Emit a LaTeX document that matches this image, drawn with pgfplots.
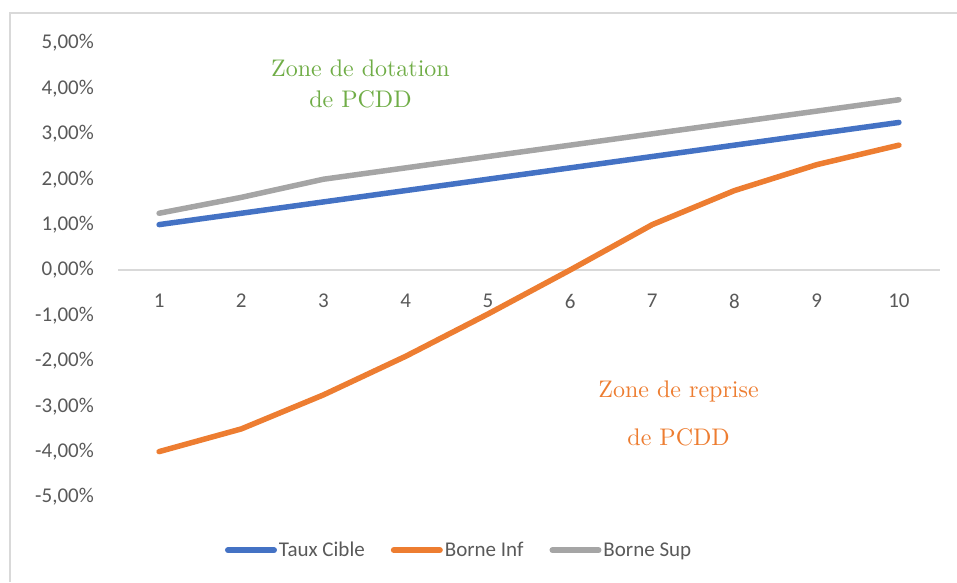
\documentclass[border=0pt]{standalone}
\usepackage{pgfplots}
\pgfplotsset{compat=1.18}
\usepackage{fontspec}
\newfontfamily\carlito{Carlito}
\newfontfamily\lmten{lmroman10-regular.otf}
\definecolor{cblue}{HTML}{4472C4}
\definecolor{corange}{HTML}{ED7D31}
\definecolor{cgray}{HTML}{A5A5A5}
\definecolor{cgreen}{HTML}{70AD47}
\definecolor{ctext}{HTML}{595959}
\definecolor{cframe}{HTML}{D9D9D9}
\begin{document}
\begin{tikzpicture}[x=1pt,y=1pt]
\useasboundingbox (0,0) rectangle (957,-582);
\draw[cframe, line width=1.5pt] (10,-582) -- (10,-13) -- (957,-13);
\begin{axis}[
  at={(118pt,-497pt)}, anchor=south west,
  scale only axis, width=822pt, height=454pt,
  xmin=0.5, xmax=10.5, ymin=-5, ymax=5,
  axis x line=middle, axis y line=left,
  x axis line style={draw=cframe, line width=2pt, -},
  y axis line style={draw=none},
  xtick={1,...,10}, ytick={-5,-4,...,5},
  yticklabels={-5{,}00\%,-4{,}00\%,-3{,}00\%,-2{,}00\%,-1{,}00\%,0{,}00\%,1{,}00\%,2{,}00\%,3{,}00\%,4{,}00\%,5{,}00\%},
  major tick length=0pt, tick style={draw=none},
  xticklabel style={font=\carlito\fontsize{21}{24}\selectfont, text=ctext, anchor=north, inner sep=0pt, yshift=-24pt},
  yticklabel style={font=\carlito\fontsize{21}{24}\selectfont, text=ctext, anchor=east, inner sep=0pt, xshift=-24pt},
  /pgf/number format/assume math mode=true,
  clip=false,
  legend style={at={(0.415,-0.117)}, anchor=center, draw=none, fill=none,
    font=\carlito\fontsize{21}{24}\selectfont, text=ctext,
    legend columns=3, /tikz/every even column/.append style={column sep=24pt},
    legend cell align=left, inner sep=0pt},
  legend image code/.code={\draw[#1, line width=6pt, line cap=round] (0pt,0pt) -- (46pt,0pt);},
  every axis plot/.append style={line width=5.5pt, line join=round, line cap=round, mark=none},
]
\addplot[cblue] coordinates {(1,1.00) (2,1.25) (3,1.50) (4,1.75) (5,2.00) (6,2.25) (7,2.50) (8,2.75) (9,3.00) (10,3.25)};
\addlegendentry{Taux Cible}
\addplot[corange] coordinates {(1,-4.00) (2,-3.50) (3,-2.75) (4,-1.90) (5,-0.97) (6,0.00) (7,1.00) (8,1.75) (9,2.32) (10,2.75)};
\addlegendentry{Borne Inf}
\addplot[cgray] coordinates {(1,1.25) (2,1.60) (3,2.00) (4,2.25) (5,2.50) (6,2.75) (7,3.00) (8,3.25) (9,3.50) (10,3.75)};
\addlegendentry{Borne Sup}
\node[text=cgreen, font=\lmten\fontsize{24}{28}\selectfont] at (axis cs:3.45,4.45) {Zone de dotation};
\node[text=cgreen, font=\lmten\fontsize{24}{28}\selectfont] at (axis cs:3.45,3.77) {de PCDD};
\node[text=corange, font=\lmten\fontsize{24}{28}\selectfont] at (axis cs:7.32,-2.67) {Zone de reprise};
\node[text=corange, font=\lmten\fontsize{24}{28}\selectfont] at (axis cs:7.32,-3.68) {de PCDD};
\end{axis}
\end{tikzpicture}
\end{document}
